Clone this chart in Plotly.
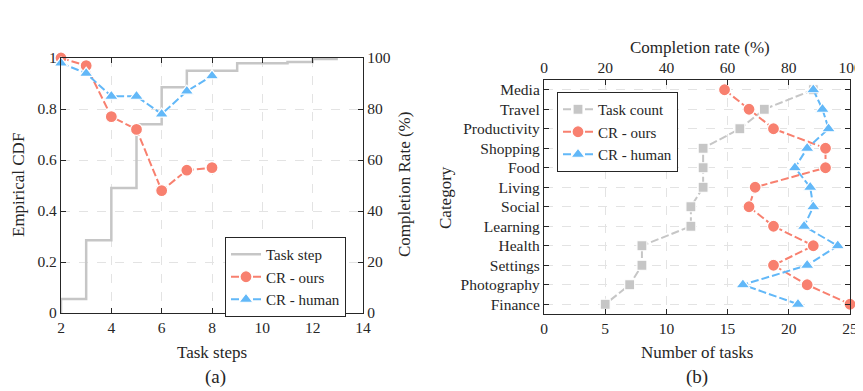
import plotly.graph_objects as go

# ---------------- data: panel (a) ----------------
step_x = [2, 2, 3, 4, 5, 6, 7, 8, 9, 10, 11, 12, 13]
cdf_y = [0, 0.055, 0.285, 0.49, 0.74, 0.885, 0.95, 0.95, 0.979, 0.979, 0.984, 0.996, 0.996]
cr_steps = [2, 3, 4, 5, 6, 7, 8]
cr_ours_a = [100, 97, 77, 72, 48, 56, 57]
cr_human_a = [98, 94, 85, 85, 78, 87, 93]

# ---------------- data: panel (b) ----------------
categories = ["Media", "Travel", "Productivity", "Shopping", "Food", "Living",
              "Social", "Learning", "Health", "Settings", "Photography", "Finance"]
task_count = [22, 18, 16, 13, 13, 13, 12, 12, 8, 8, 7, 5]
cr_ours_b = [59, 67, 75, 92, 92, 69, 67, 75, 88, 75, 86, 100]
cr_human_b = [88, 91, 93, 86, 82, 87, 88, 85, 96, 86, 65, 83]

RED = "#F8806F"
BLUE = "#62B8F8"
GRAY = "#C6C6C6"
TXT = "#262626"
FONT = "Liberation Serif"
GRID = "#E3E3E3"
TICK = 15.5
LEG = 15
TITLE = 17

fig = go.Figure()

# panel (a)
fig.add_trace(go.Scatter(x=step_x, y=cdf_y, mode="lines", line=dict(shape="hv", color=GRAY, width=2.5),
                         name="Task step", xaxis="x", yaxis="y", legend="legend"))
fig.add_trace(go.Scatter(x=cr_steps, y=cr_ours_a, mode="lines+markers", cliponaxis=False,
                         line=dict(color=RED, width=2, dash="8px,3px"),
                         marker=dict(symbol="circle", size=12, color=RED, line=dict(color="white", width=1.2)),
                         name="CR - ours", xaxis="x", yaxis="y2", legend="legend"))
fig.add_trace(go.Scatter(x=cr_steps, y=cr_human_a, mode="lines+markers", cliponaxis=False,
                         line=dict(color=BLUE, width=2, dash="8px,3px"),
                         marker=dict(symbol="triangle-up", size=12, color=BLUE, line=dict(color="white", width=1.2)),
                         name="CR - human", xaxis="x", yaxis="y2", legend="legend"))

# panel (b)
fig.add_trace(go.Scatter(x=task_count, y=categories, mode="lines+markers", cliponaxis=False,
                         line=dict(color=GRAY, width=2, dash="8px,3px"),
                         marker=dict(symbol="square", size=10, color=GRAY, line=dict(color="white", width=1.2)),
                         name="Task count", xaxis="x3", yaxis="y3", legend="legend2"))
fig.add_trace(go.Scatter(x=cr_ours_b, y=categories, mode="lines+markers", cliponaxis=False,
                         line=dict(color=RED, width=2, dash="8px,3px"),
                         marker=dict(symbol="circle", size=12, color=RED, line=dict(color="white", width=1.2)),
                         name="CR - ours", xaxis="x4", yaxis="y3", legend="legend2"))
fig.add_trace(go.Scatter(x=cr_human_b, y=categories, mode="lines+markers", cliponaxis=False,
                         line=dict(color=BLUE, width=2, dash="8px,3px"),
                         marker=dict(symbol="triangle-up", size=12, color=BLUE, line=dict(color="white", width=1.2)),
                         name="CR - human", xaxis="x4", yaxis="y3", legend="legend2"))

# page has an 8px body margin: figure is placed at (8, 8)
OFF = 8
W, H = 863 - OFF, 391 - OFF
def px(x):
    return (x - OFF) / W
def py(y):
    return (H - (y - OFF)) / H

axcommon = dict(showline=True, linecolor=TXT, linewidth=1.2, ticks="inside", ticklen=5, tickcolor=TXT,
                tickfont=dict(family=FONT, size=TICK, color=TXT), zeroline=False,
                showgrid=True, gridcolor=GRID, griddash="dash", gridwidth=1, automargin=False)
axnogrid = {k: v for k, v in axcommon.items() if k != "showgrid"}

fig.update_layout(
    width=W, height=H, margin=dict(l=0, r=0, t=0, b=0),
    paper_bgcolor="white", plot_bgcolor="white",
    font=dict(family=FONT, size=TICK, color=TXT),
    showlegend=True,
    xaxis=dict(domain=[px(61), px(363)], range=[2, 14], dtick=2, anchor="y", mirror="ticks", **axcommon),
    yaxis=dict(domain=[py(313), py(58)], range=[0, 1], anchor="x",
               tickvals=[0, 0.2, 0.4, 0.6, 0.8, 1], ticktext=["0", "0.2", "0.4", "0.6", "0.8", "1"], **axcommon),
    yaxis2=dict(overlaying="y", side="right", anchor="x", range=[0, 100], dtick=20, showgrid=False, **axnogrid),
    xaxis3=dict(domain=[px(544), px(850)], range=[0, 25], dtick=5, anchor="y3", **axcommon),
    xaxis4=dict(overlaying="x3", side="top", anchor="y3", range=[0, 100], dtick=20, showgrid=False, **axnogrid),
    yaxis3=dict(domain=[py(314), py(80)], type="category", categoryorder="array", categoryarray=categories,
                range=[11.5, -0.5], anchor="x3", mirror="ticks", **axcommon),
    legend=dict(x=px(225), y=py(237), xanchor="left", yanchor="top", bgcolor="white",
                bordercolor=TXT, borderwidth=1, font=dict(family=FONT, size=LEG, color=TXT),
                tracegroupgap=0, itemwidth=30),
    legend2=dict(x=px(557), y=py(92), xanchor="left", yanchor="top", bgcolor="white",
                 bordercolor=TXT, borderwidth=1, font=dict(family=FONT, size=LEG, color=TXT),
                 tracegroupgap=0, itemwidth=30),
)

ann = [
    dict(text="Empirical CDF", x=px(18), y=py(185), textangle=-90),
    dict(text="Completion Rate (%)", x=px(404), y=py(185), textangle=-90),
    dict(text="Task steps", x=px(212), y=py(352)),
    dict(text="(a)", x=px(215), y=py(377), size=19),
    dict(text="Category", x=px(445), y=py(197), textangle=-90),
    dict(text="Number of tasks", x=px(697), y=py(352)),
    dict(text="Completion rate (%)", x=px(700), y=py(48)),
    dict(text="(b)", x=px(697), y=py(377), size=19),
]
for a in ann:
    fig.add_annotation(text=a["text"], x=a["x"], y=a["y"], xref="paper", yref="paper",
                       xanchor="center", yanchor="middle", showarrow=False,
                       textangle=a.get("textangle", 0),
                       font=dict(family=FONT, size=a.get("size", TITLE), color=TXT))

fig.write_html("out.html")
